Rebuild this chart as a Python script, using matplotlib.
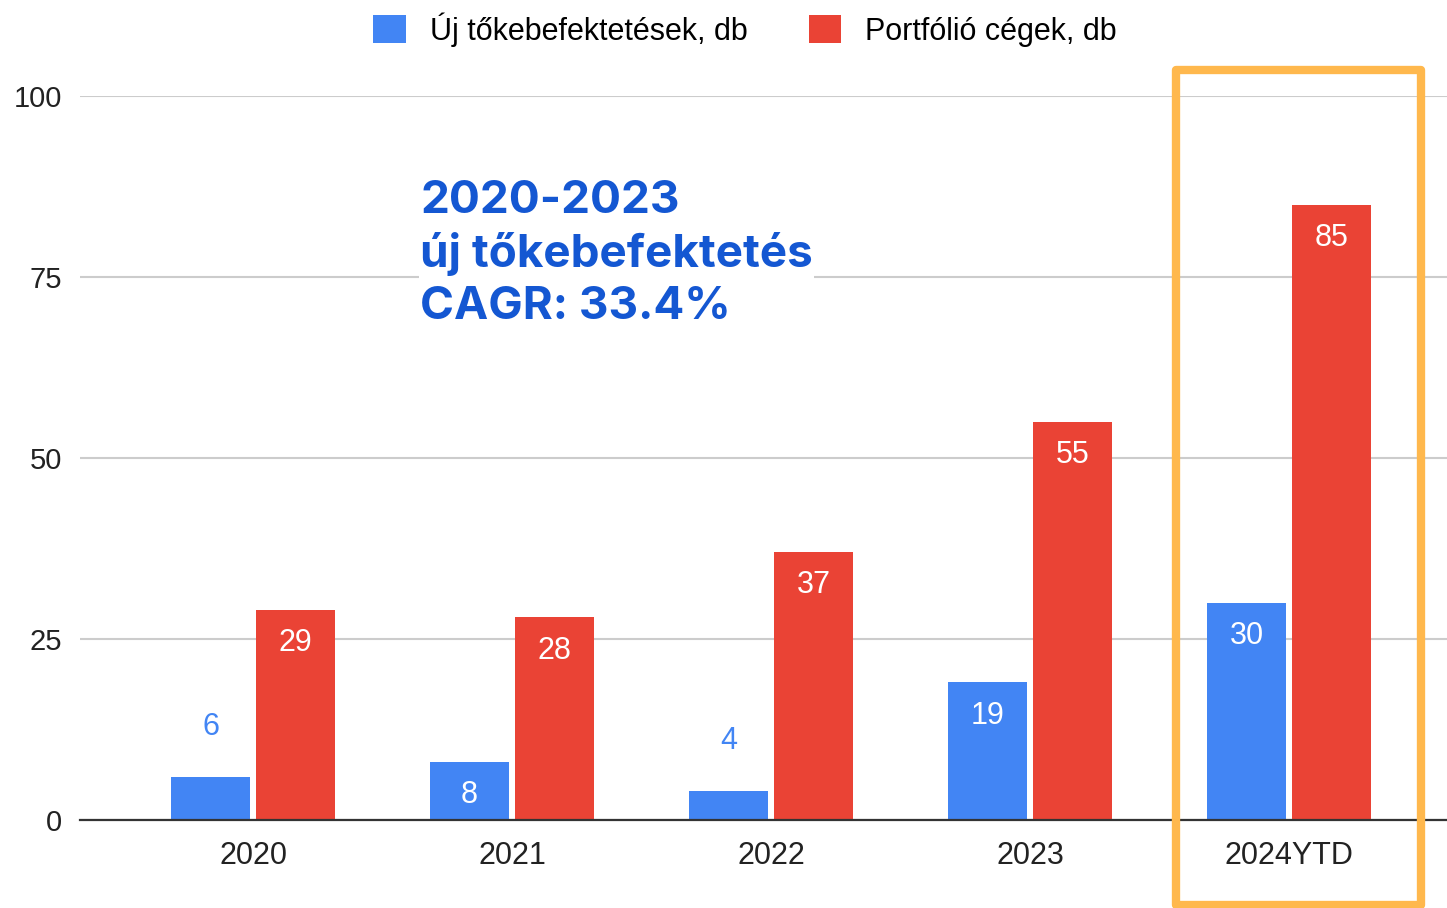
import matplotlib.pyplot as plt
from matplotlib.patches import Rectangle, Patch
import numpy as np

years = ["2020", "2021", "2022", "2023", "2024YTD"]
uj_tokebefektetesek = [6, 8, 4, 19, 30]
portfolio_cegek = [29, 28, 37, 55, 85]
yticks = [0, 25, 50, 75, 100]

blue = "#4285F4"
red = "#EA4335"
orange = "#FFB84D"
note_color = "#1457D2"

plt.rcParams['font.family'] = ['Liberation Sans', 'DejaVu Sans']

fig = plt.figure(figsize=(14.47, 9.08), dpi=100)
ax = fig.add_axes([80 / 1447, 88 / 908, 1367 / 1447, 724 / 908])

x = np.arange(len(years))
w = 0.305
off = 0.164

b1 = ax.bar(x - off, uj_tokebefektetesek, w, color=blue, zorder=3)
b2 = ax.bar(x + off, portfolio_cegek, w, color=red, zorder=3)

# data labels: inside near top, or above bar if bar too short
for bars, vals, col in [(b1, uj_tokebefektetesek, blue), (b2, portfolio_cegek, red)]:
    for rect, v in zip(bars, vals):
        cx = rect.get_x() + rect.get_width() / 2
        if v < 7:
            ax.annotate(str(v), (cx, v), xytext=(0, 36), textcoords="offset points",
                        ha="center", va="center", fontsize=22, color=col, zorder=4)
        else:
            ax.annotate(str(v), (cx, v), xytext=(0, -24), textcoords="offset points",
                        ha="center", va="center", fontsize=22, color="white", zorder=4)

ax.set_xlim(-0.668, 4.610)
ax.set_ylim(0, 100)
ax.set_yticks(yticks)
ax.set_xticks(x)
ax.set_xticklabels(years)
ax.tick_params(axis="both", length=0, labelsize=22, colors="#222222")
ax.tick_params(axis="y", labelsize=21, pad=13)
ax.tick_params(axis="x", pad=15)
ax.grid(axis="y", color="#CCCCCC", linewidth=1.5, zorder=0)
for s in ["top", "right", "left"]:
    ax.spines[s].set_visible(False)
ax.spines["bottom"].set_color("#333333")
ax.spines["bottom"].set_linewidth(1.6)
ax.spines["bottom"].set_zorder(5)

# highlight box around 2024YTD
ax.add_patch(Rectangle((3.565, -11.7), 0.945, 115.3, fill=False, edgecolor=orange,
                       linewidth=6, clip_on=False, zorder=6, joinstyle="round"))

ax.text(0.645, 88.4, "2020-2023\núj tőkebefektetés\nCAGR: 33.4%", fontsize=33,
        fontweight="bold", color=note_color, va="top", ha="left", linespacing=1.29,
        family=["Inter", "DejaVu Sans"],
        bbox=dict(facecolor="white", edgecolor="none", pad=1), zorder=4)

handles = [Patch(facecolor=blue, label="Új tőkebefektetések, db"),
           Patch(facecolor=red, label="Portfólió cégek, db")]
fig.legend(handles=handles, loc="upper center", bbox_to_anchor=(0.515, 1.017), ncol=2,
           frameon=False, fontsize=22, handlelength=1.05, handleheight=1.05,
           handletextpad=0.8, columnspacing=2.0)

fig.savefig("out.png", dpi=100)
